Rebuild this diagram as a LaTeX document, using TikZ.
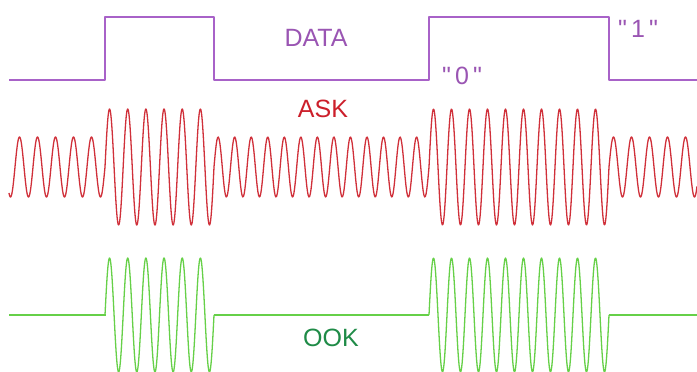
\documentclass[tikz,border=0pt]{standalone}
\usepackage{fontspec}
\setmainfont{Liberation Sans}[Ligatures=TeXOff]
\usepackage{xcolor}
\usepackage{tikz}
\definecolor{datapurple}{HTML}{A862C8}
\definecolor{datatext}{HTML}{9A55B3}
\definecolor{askred}{HTML}{D0303A}
\definecolor{asktext}{HTML}{CC1F2B}
\definecolor{ookgreen}{HTML}{66D048}
\definecolor{ooktext}{HTML}{1F8B47}

\begin{document}
\begin{tikzpicture}[x=1pt,y=-1pt,
  lbl/.style={inner sep=0pt,font=\fontsize{25}{30}\selectfont},
  sig/.style={line width=1.3pt,line join=round}]
\clip (0,0) rectangle (697,372);
\fill[white] (0,0) rectangle (697,372);
% data
\draw[sig,datapurple] (9,80) -- (105,80) -- (105,17) -- (214,17) -- (214,80)
  -- (429,80) -- (429,17) -- (609,17) -- (609,80) -- (697,80);
\node[lbl,text=datatext] (datalbl) at (316,38) {DATA};
\node[lbl,text=datatext] (zero) at (462,76) {"\,0\,"};
\node[lbl,text=datatext] (one) at (638,29) {"\,1\,"};
% ask and ook, one segment per bit
\foreach \xa/\xb/\per/\ph/\amp/\oamp in {9/105/18/-120/30/0,
    105/214/18.1667/0/58/57, 214/429/16.5385/0/30/0,
    429/609/18/0/58/57, 609/697/18/0/30/0}{
  \draw[sig,askred] plot[domain=\xa:\xb,samples=300]
    (\x,{167-\amp*sin(360/\per*(\x-\xa)+\ph)});
  \draw[sig,ookgreen] plot[domain=\xa:\xb,samples=300]
    (\x,{315-\oamp*sin(360/\per*(\x-\xa)+\ph)});
}
\node[lbl,text=asktext] (asklbl) at (323,109) {ASK};
\node[lbl,text=ooktext] (ooklbl) at (331,338) {OOK};
\end{tikzpicture}
\end{document}
